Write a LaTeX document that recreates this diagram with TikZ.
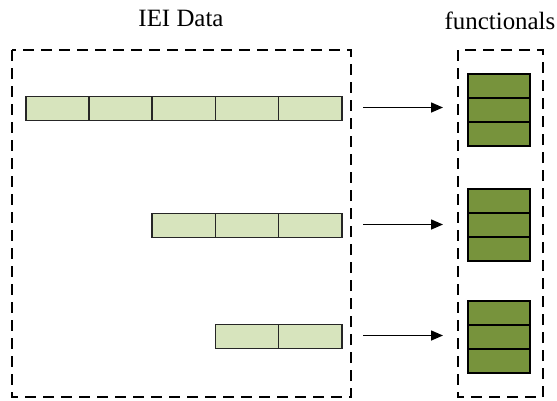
\documentclass[tikz,border=0pt]{standalone}
\usepackage{fontspec}
\setmainfont{Liberation Serif}
\usetikzlibrary{arrows.meta}
\definecolor{lightg}{HTML}{D7E4BD}
\definecolor{darkg}{HTML}{77933C}
\tikzset{
  grp/.style={draw=black, line width=1.9bp, dash pattern=on 11bp off 7bp},
  cellL/.style={draw=black!85, fill=lightg, line width=1.5bp, minimum width=63.2bp, minimum height=24bp, inner sep=0pt, anchor=north west},
  cellD/.style={draw=black, fill=darkg, line width=1.5bp, minimum width=62bp, minimum height=24bp, inner sep=0pt, anchor=north west},
  conn/.style={-{Triangle[length=12bp,width=10bp]}, line width=1.5bp},
  lbl/.style={font=\fontsize{25}{28}\selectfont, inner sep=0pt, anchor=base}
}
\begin{document}
\begin{tikzpicture}[x=1bp,y=-1bp]
\useasboundingbox (0,0) rectangle (557,400);
\node[lbl] (t1) at (181,26) {IEI Data};
\node[lbl] (t2) at (500,29) {functionals};
\draw[grp] (12,50) rectangle (351,397);
\draw[grp] (458,50) rectangle (543,397);
% row 1
\foreach \i in {0,...,4} \node[cellL] (a\i) at (25+63.2*\i,95.5) {};
% row 2
\foreach \i in {2,...,4} \node[cellL] (b\i) at (25+63.2*\i,212.5) {};
% row 3
\foreach \i in {3,4} \node[cellL] (c\i) at (25+63.2*\i,323.5) {};
% stacks
\foreach \j in {0,1,2} {
  \node[cellD] (p\j) at (467,73+24*\j) {};
  \node[cellD] (q\j) at (467,188+24*\j) {};
  \node[cellD] (r\j) at (467,300+24*\j) {};
}
\coordinate (s1) at (363,107.5);
\coordinate (s2) at (363,224.5);
\coordinate (s3) at (363,335.5);
\draw[conn] (s1) -- (s1 -| 443,0);
\draw[conn] (s2) -- (s2 -| 443,0);
\draw[conn] (s3) -- (s3 -| 443,0);
\end{tikzpicture}
\end{document}
